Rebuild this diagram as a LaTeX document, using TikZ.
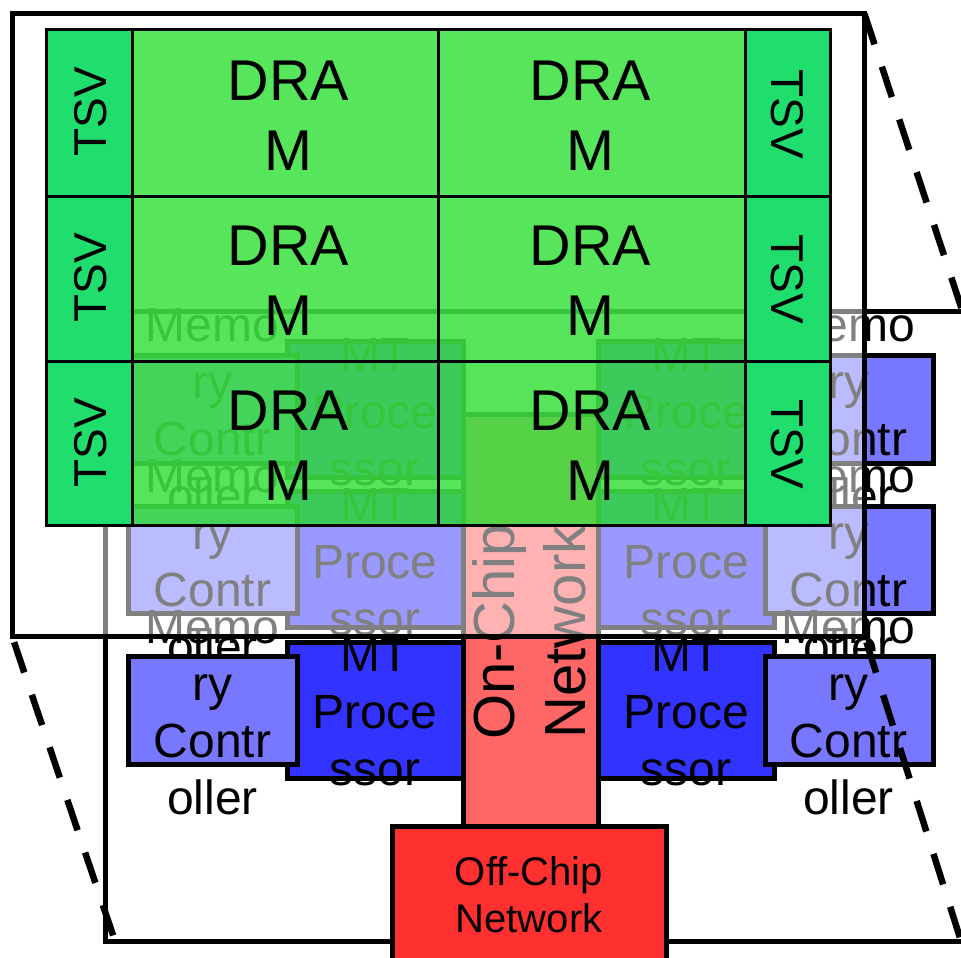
\documentclass[tikz,border=0pt]{standalone}
\usepackage{fontspec}
\setmainfont{Liberation Sans}
\definecolor{procblue}{HTML}{3333FF}
\definecolor{memblue}{HTML}{7777FF}
\definecolor{onred}{HTML}{FF6666}
\definecolor{offred}{HTML}{FF3030}
\definecolor{dramgreen}{HTML}{1EDD24}
\definecolor{tsvgreen}{HTML}{20DE6E}
\newcommand{\blk}[6]{%
  \pgfmathsetmacro{\blkw}{#5-#3}\pgfmathsetmacro{\blkh}{#6-#4}%
  \node[#2,minimum width=\blkw pt,minimum height=\blkh pt,anchor=north west] (#1) at (#3,#4) {};}
\tikzset{
  rectbase/.style={draw=black,inner sep=0pt,outer sep=0pt,rectangle,line join=miter},
  chip/.style={rectbase,line width=5pt,fill=white},
  proc/.style={rectbase,line width=5pt,fill=procblue},
  memc/.style={rectbase,line width=5pt,fill=memblue},
  onnet/.style={rectbase,line width=5pt,fill=onred},
  offnet/.style={rectbase,line width=5pt,fill=offred},
  veil/.style={rectbase,line width=5pt,fill=white,fill opacity=0.5,draw opacity=1},
  dramcell/.style={rectbase,line width=3pt,fill=dramgreen,fill opacity=0.75,draw opacity=1},
  tsvcell/.style={rectbase,line width=3pt,fill=tsvgreen},
  t47/.style={inner sep=0pt,align=center,font=\fontsize{48}{57}\selectfont},
  t57/.style={inner sep=0pt,align=center,font=\fontsize{57.5}{70}\selectfont},
  t58/.style={inner sep=0pt,align=center,font=\fontsize{58}{71}\selectfont},
  t46/.style={inner sep=0pt,align=center,font=\fontsize{46}{55}\selectfont},
  t40/.style={inner sep=0pt,align=center,font=\fontsize{40}{47}\selectfont},
  fold/.style={line width=6.5pt,draw=black,dash pattern=on 32pt off 23.5pt},
  foldlow/.style={fold,dash phase=49pt},
}
\begin{document}
\begin{tikzpicture}[x=1pt,y=-1pt]
\useasboundingbox (0,0) rectangle (961,958);
\clip (0,0) rectangle (961,958);
% processor layer
\blk{chipbase}{chip}{105}{311}{990}{941}
\blk{noc}{onnet}{463}{414}{598}{826}
\node[t58,rotate=90] (noctext) at (529,632) {On-Chip\\Network};
\blk{pa}{proc}{287.5}{341}{463}{477}
\node[t47] (pat) at (375,412.5) {MT\\Proce\\ssor};
\blk{pb}{proc}{598}{341}{774}{477}
\node[t47] (pbt) at (686,412.5) {MT\\Proce\\ssor};
\blk{pc}{proc}{287.5}{491.5}{463}{627.5}
\node[t47] (pct) at (375,562.5) {MT\\Proce\\ssor};
\blk{pd}{proc}{598}{491.5}{774}{627.5}
\node[t47] (pdt) at (686,562.5) {MT\\Proce\\ssor};
\blk{pe}{proc}{287.5}{642}{463}{778}
\node[t47] (pet) at (375,712.5) {MT\\Proce\\ssor};
\blk{pf}{proc}{598}{642}{774}{778}
\node[t47] (pft) at (686,712.5) {MT\\Proce\\ssor};
\blk{ma}{memc}{128.5}{355.5}{297}{463}
\node[t47] (mat) at (212.5,410.5) {Memo\\ry\\Contr\\oller};
\blk{mb}{memc}{765}{355.5}{933}{463}
\node[t47] (mbt) at (848.5,410.5) {Memo\\ry\\Contr\\oller};
\blk{mc}{memc}{128.5}{506}{297}{613}
\node[t47] (mct) at (212.5,561.5) {Memo\\ry\\Contr\\oller};
\blk{md}{memc}{765}{506}{933}{613}
\node[t47] (mdt) at (848.5,561.5) {Memo\\ry\\Contr\\oller};
\blk{me}{memc}{128.5}{656.5}{297}{764}
\node[t47] (met) at (212.5,712.5) {Memo\\ry\\Contr\\oller};
\blk{mf}{memc}{765}{656.5}{933}{764}
\node[t47] (mft) at (848.5,712.5) {Memo\\ry\\Contr\\oller};
\blk{off}{offnet}{392.5}{826}{666}{975}
\node[t40] (offt) at (529,895) {Off-Chip\\Network};
% veil and stacked DRAM layer
\blk{veilbox}{veil}{12}{14}{864.5}{636}
\coordinate (foldtr) at (963,313);
\coordinate (foldbl) at (115,941);
\coordinate (foldbr) at (961,941);
\draw[fold] (veilbox.north east) -- (foldtr);
\draw[foldlow] (veilbox.south west) -- (foldbl);
\draw[foldlow] (veilbox.south east) -- (foldbr);
\blk{ta}{tsvcell}{46}{30}{132}{196}
\blk{tb}{tsvcell}{46}{196}{132}{361}
\blk{tc}{tsvcell}{46}{361}{132}{525}
\blk{td}{tsvcell}{745}{30}{830}{196}
\blk{te}{tsvcell}{745}{196}{830}{361}
\blk{tf}{tsvcell}{745}{361}{830}{525}
\blk{da}{dramcell}{132}{30}{438}{196}
\blk{db}{dramcell}{438}{30}{745}{196}
\blk{dc}{dramcell}{132}{196}{438}{361}
\blk{dd}{dramcell}{438}{196}{745}{361}
\blk{de}{dramcell}{132}{361}{438}{525}
\blk{df}{dramcell}{438}{361}{745}{525}
\node[t57] at (288.5,116) {DRA\\M};
\node[t57] at (590.5,116) {DRA\\M};
\node[t57] at (288.5,281) {DRA\\M};
\node[t57] at (590.5,281) {DRA\\M};
\node[t57] at (288.5,446) {DRA\\M};
\node[t57] at (590.5,446) {DRA\\M};
\node[t46,rotate=90] at (91,112) {TSV};
\node[t46,rotate=90] at (91,278) {TSV};
\node[t46,rotate=90] at (91,443) {TSV};
\node[t46,rotate=270] at (787,114) {TSV};
\node[t46,rotate=270] at (787,279) {TSV};
\node[t46,rotate=270] at (787,444) {TSV};
\end{tikzpicture}
\end{document}
